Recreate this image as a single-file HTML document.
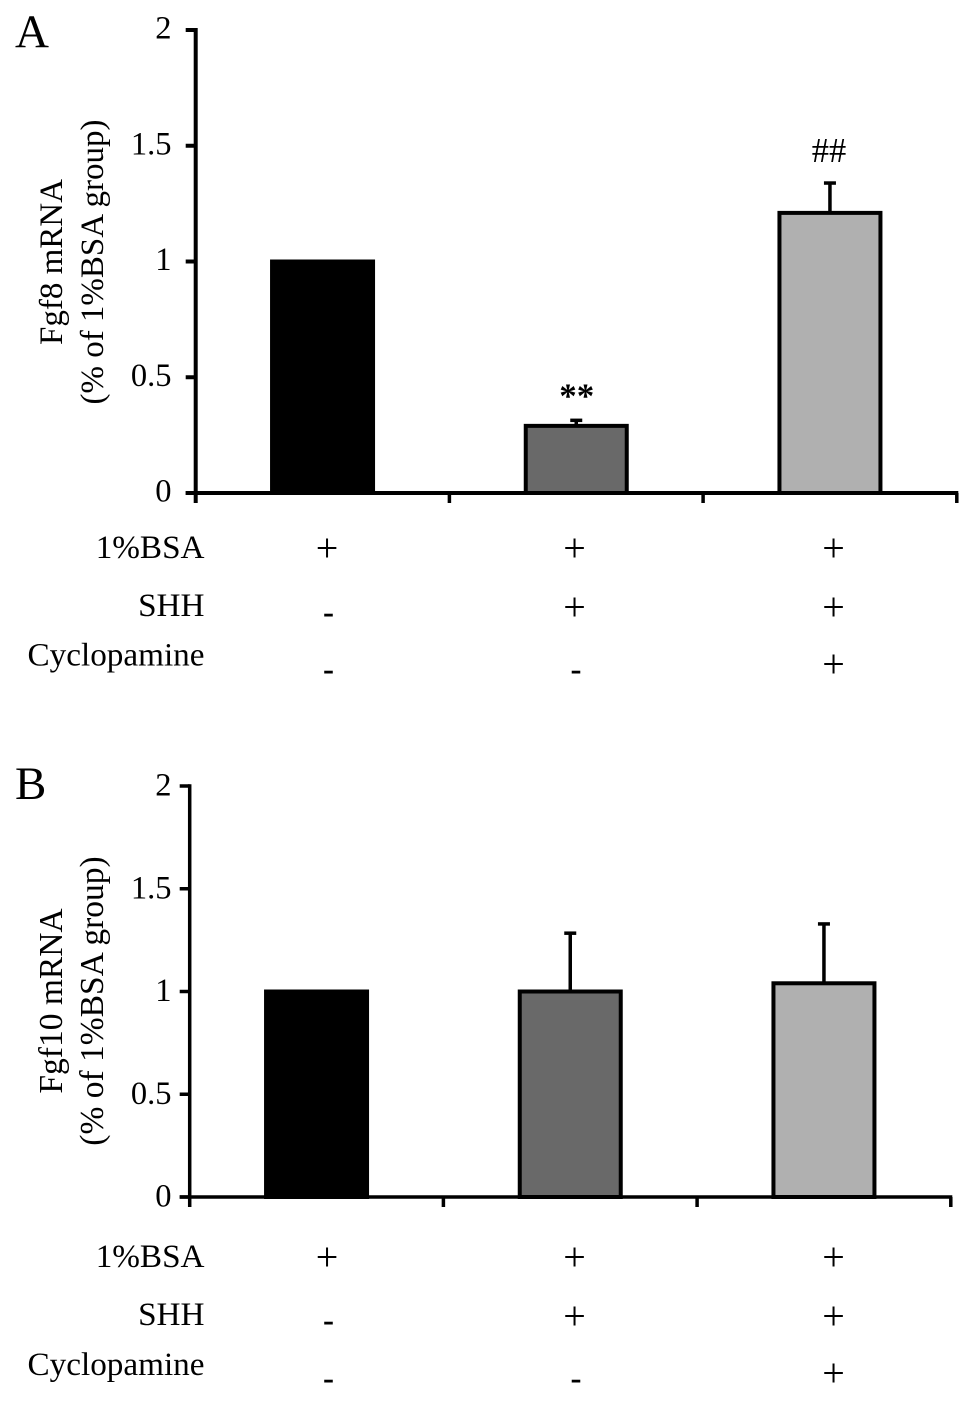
<!DOCTYPE html>
<html lang="en">
<head>
<meta charset="utf-8">
<title>Fgf8 and Fgf10 mRNA bar charts</title>
<style>
html,body{margin:0;padding:0;background:#fff;width:964px;height:1407px;overflow:hidden}
svg{display:block}
text{font-family:"Liberation Serif","Times New Roman",serif;fill:#000}
</style>
</head>
<body>
<svg id="figure" width="964" height="1407" viewBox="0 0 964 1407" xmlns="http://www.w3.org/2000/svg"></svg>
<script>
const yTickLabels = ["0", "0.5", "1", "1.5", "2"];
const yTickValues = [0, 0.5, 1, 1.5, 2];
const categories = ["control", "shh", "shh-cyclopamine"];
const conditionNames = ["1%BSA", "SHH", "Cyclopamine"];
const conditionSigns = [["+", "+", "+"], ["-", "+", "+"], ["-", "-", "+"]];
const fgf8Values = [1, 0.29, 1.21];
const fgf8ErrorTops = [1, 0.315, 1.34];
const fgf8Marks = ["", "**", "##"];
const fgf10Values = [1, 1, 1.04];
const fgf10ErrorTops = [1, 1.285, 1.33];
const fgf10Marks = ["", "", ""];

const SVGNS = "http://www.w3.org/2000/svg";
const root = document.getElementById("figure");
const barFills = ["#000000", "#696969", "#b0b0b0"];

function make(tag, attrs, parent, content) {
  const el = document.createElementNS(SVGNS, tag);
  for (const key in attrs) el.setAttribute(key, attrs[key]);
  if (content !== undefined) el.textContent = content;
  parent.appendChild(el);
  return el;
}

function drawPanel(p) {
  const g = make("g", {}, root);
  
  

  const yScale = v => p.y0 - v * p.yUnit;
  const xBand = i => p.x0 + i * p.step;
  const xCenter = i => p.x0 + (i + 0.5) * p.step;

  const letter = make("text", {x: p.letterX, y: p.letterY, "font-size": 47}, g, p.letter);
  
  

  const title1 = make("text", {transform: "translate(" + p.title1X + "," + p.titleY + ") rotate(-90)", "text-anchor": "middle", "font-size": p.titleSize}, g, p.title);
  
  

  const title2 = make("text", {transform: "translate(" + p.title2X + "," + p.titleY + ") rotate(-90)", "text-anchor": "middle", "font-size": p.titleSize}, g, "(% of 1%BSA group)");
  
  

  yTickValues.forEach((v, i) => {
    const label = make("text", {x: 171.5, y: yScale(v) + p.labelDy, "text-anchor": "end", "font-size": 32.5}, g, yTickLabels[i]);
    
    
    const tick = make("rect", {x: p.x0 - 10, y: yScale(v) - p.sw / 2, width: 10, height: p.sw, fill: "#000"}, g);
    
    
  });

  categories.forEach((c, i) => {
    const x = xCenter(i);
    const top = yScale(p.values[i]);
    const errTop = yScale(p.errors[i]);
    if (p.errors[i] > p.values[i]) {
      const stem = make("rect", {x: x - 1.75, y: errTop, width: 3.5, height: top - errTop, fill: "#000"}, g);
      
      
      const cap = make("rect", {x: x - 6, y: errTop - 1.5, width: 12, height: 3.5, fill: "#000"}, g);
      
      
    }
    const bar = make("rect", {x: x - 50.5, y: top, width: 101, height: p.y0 - top, fill: barFills[i], stroke: "#000", "stroke-width": 4}, g);
    
    
    if (p.marks[i]) {
      const stars = p.marks[i] === "**";
      const mark = make("text", {x: x + (stars ? 0.5 : -1), y: errTop + (stars ? -12.5 : -21), "text-anchor": "middle", "font-size": stars ? 35 : 34.5, "font-weight": stars ? "bold" : "normal"}, g, p.marks[i]);
      
      
    }
  });

  const yAxis = make("rect", {x: p.x0 - p.sw / 2, y: yScale(2) - p.sw / 2, width: p.sw, height: p.y0 - yScale(2) + p.sw / 2 + 10, fill: "#000"}, g);
  
  

  const xAxis = make("rect", {x: p.x0 - 10, y: p.y0 - p.sw / 2, width: 3 * p.step + 11.5, height: p.sw, fill: "#000"}, g);
  
  

  for (let i = 1; i <= categories.length; i++) {
    const tick = make("rect", {x: xBand(i) - 1.75, y: p.y0, width: 3.5, height: 10, fill: "#000"}, g);
    
    
  }

  conditionNames.forEach((name, r) => {
    const label = make("text", {x: 204.5, y: p.rowNameY[r], "text-anchor": "end", "font-size": 33.2}, g, name);
    
    
    conditionSigns[r].forEach((sign, c) => {
      const isPlus = sign === "+";
      const signEl = make("text", {x: (isPlus ? p.plusX : p.minusX)[c], y: (isPlus ? p.plusY : p.minusY)[r], "text-anchor": "middle", "font-size": isPlus ? 40 : 33, "font-weight": isPlus ? "normal" : "bold"}, g, sign);
      
      
    });
  });
}

drawPanel({
  id: "fgf8", letter: "A", letterX: 15, letterY: 47,
  title: "Fgf8 mRNA", title1X: 62, title2X: 103, titleY: 262, titleSize: 33,
  x0: 195.7, step: 253.7, y0: 493, yUnit: 231.5, sw: 4, labelDy: 8.5,
  values: fgf8Values, errors: fgf8ErrorTops, marks: fgf8Marks,
  rowNameY: [558, 616, 665.5],
  plusX: [327, 574.5, 833.5], plusY: [561.5, 620.5, 677.5],
  minusX: [328.5, 576, 576], minusY: [0, 623, 680]
});

drawPanel({
  id: "fgf10", letter: "B", letterX: 15, letterY: 799,
  title: "Fgf10 mRNA", title1X: 62, title2X: 103, titleY: 1001, titleSize: 33.5,
  x0: 189.7, step: 253.7, y0: 1197, yUnit: 205.5, sw: 3.5, labelDy: 9.5,
  values: fgf10Values, errors: fgf10ErrorTops, marks: fgf10Marks,
  rowNameY: [1267, 1325, 1375],
  plusX: [327, 574.5, 833.5], plusY: [1270.5, 1329.5, 1386.5],
  minusX: [328.5, 576, 576], minusY: [0, 1331, 1389]
});
</script>
</body>
</html>
